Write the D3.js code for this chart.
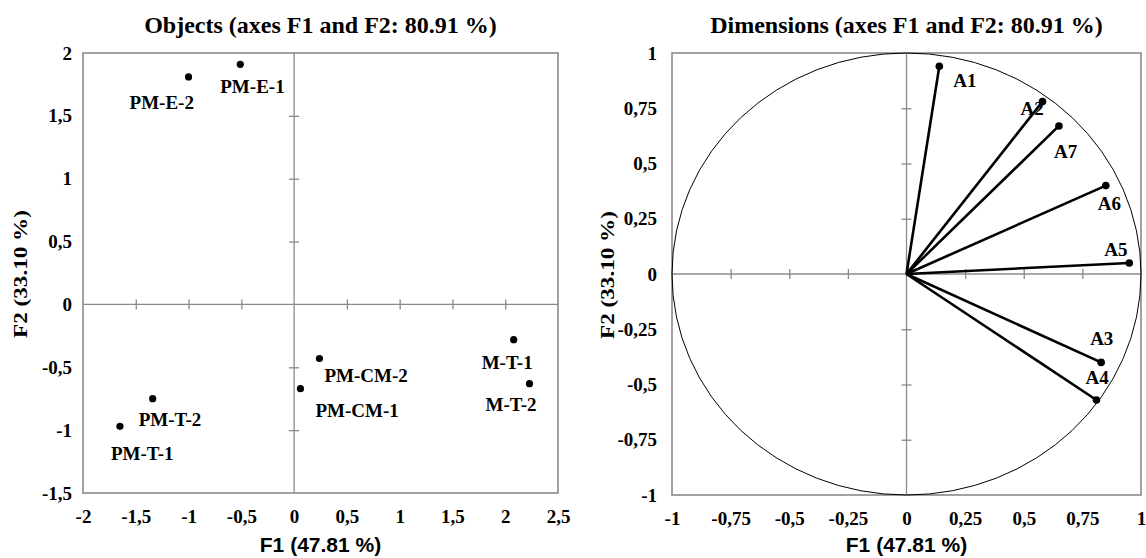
<!DOCTYPE html>
<html>
<head>
<meta charset="utf-8">
<script src="https://cdn.jsdelivr.net/npm/d3@7"></script>
<style>
    body { margin: 0; background: #fff; }
    svg { display: block; }
</style>
</head>
<body>
<svg id="chart" width="1146" height="558"></svg>
<script>
// Objects (observations) on F1 / F2
const objNames = ["PM-E-1", "PM-E-2", "M-T-1", "M-T-2", "PM-CM-2", "PM-CM-1", "PM-T-2", "PM-T-1"];
const objF1 = [-0.51, -1.00, 2.08, 2.23, 0.24, 0.06, -1.34, -1.65];
const objF2 = [1.91, 1.81, -0.28, -0.63, -0.43, -0.67, -0.75, -0.97];

// Dimensions (variables) on the correlation circle
const varNames = ["A1", "A2", "A7", "A6", "A5", "A3", "A4"];
const varF1 = [0.14, 0.58, 0.65, 0.85, 0.95, 0.83, 0.81];
const varF2 = [0.94, 0.78, 0.67, 0.40, 0.05, -0.40, -0.57];

const objXTicks = [-2, -1.5, -1, -0.5, 0, 0.5, 1, 1.5, 2, 2.5];
const objYTicks = [2, 1.5, 1, 0.5, 0, -0.5, -1, -1.5];
const varTicks = [-1, -0.75, -0.5, -0.25, 0, 0.25, 0.5, 0.75, 1];

const titleObj = "Objects (axes F1 and F2: 80.91 %)";
const titleVar = "Dimensions (axes F1 and F2: 80.91 %)";
const xTitle = "F1 (47.81 %)";
const yTitle = "F2 (33.10 %)";

// label placement relative to the point (start x, middle y)
const objLabelPos = {
    "PM-E-1": [-20, 22], "PM-E-2": [-59, 25], "M-T-1": [-32, 23], "M-T-2": [-44, 21],
    "PM-CM-2": [5, 17], "PM-CM-1": [15, 22], "PM-T-2": [-14, 21], "PM-T-1": [-9, 27]
};
const varLabelPos = {
    "A1": [14, 14], "A2": [-22, 7], "A7": [-5, 25], "A6": [-8, 18],
    "A5": [-25, -14], "A3": [-11, -24], "A4": [-11, -23]
};

const serif = "'Liberation Serif', 'Times New Roman', serif";
const sans = "'Liberation Sans', Arial, sans-serif";
const frameColor = "#8a8a8a";
const fmt = d => String(d).replace(".", ",");

const svg = d3.select("#chart");
svg.append("rect").attr("width", 1146).attr("height", 558).attr("fill", "#fff");

function drawPanel(opt) {
    const x = d3.scaleLinear().domain(opt.xDomain).range([opt.left, opt.right]);
    const y = d3.scaleLinear().domain(opt.yDomain).range([opt.bottom, opt.top]);
    const g = svg.append("g");

    // zero axes
    g.append("line")
        .attr("x1", x(0)).attr("x2", x(0))
        .attr("y1", opt.top).attr("y2", opt.bottom)
        .style("stroke", frameColor).style("stroke-width", 1.3);
    g.append("line")
        .attr("x1", opt.left).attr("x2", opt.right)
        .attr("y1", y(0)).attr("y2", y(0))
        .style("stroke", frameColor).style("stroke-width", 1.3);

    // crossing ticks on the zero axes
    const innerX = opt.xTicks.filter(d => d !== 0 && d !== opt.xDomain[0] && d !== opt.xDomain[1]);
    const innerY = opt.yTicks.filter(d => d !== 0 && d !== opt.yDomain[0] && d !== opt.yDomain[1]);
    const cx = g.append("g")
        .attr("transform", `translate(0,${y(0) - 5})`)
        .call(d3.axisBottom(x).tickValues(innerX).tickSize(10).tickFormat(""));
    const cy = g.append("g")
        .attr("transform", `translate(${x(0) + 5},0)`)
        .call(d3.axisLeft(y).tickValues(innerY).tickSize(10).tickFormat(""));
    [cx, cy].forEach(a => {
        a.select(".domain").remove();
        a.selectAll("line").style("stroke", frameColor).style("stroke-width", 1.3);
    });

    // frame
    g.append("rect")
        .attr("x", opt.left).attr("y", opt.top)
        .attr("width", opt.right - opt.left).attr("height", opt.bottom - opt.top)
        .attr("fill", "none")
        .style("stroke", frameColor).style("stroke-width", 1.6);

    // tick labels
    const ax = g.append("g")
        .attr("transform", `translate(0,${opt.bottom})`)
        .call(d3.axisBottom(x).tickValues(opt.xTicks).tickSize(0).tickPadding(17).tickFormat(fmt));
    const ay = g.append("g")
        .attr("transform", `translate(${opt.left},0)`)
        .call(d3.axisLeft(y).tickValues(opt.yTicks).tickSize(0).tickPadding(opt.yPad).tickFormat(fmt));
    [ax, ay].forEach(a => {
        a.select(".domain").remove();
        a.selectAll("text")
            .style("font-family", serif).style("font-weight", "bold")
            .style("font-size", "19px").attr("fill", "#000");
    });

    // titles
    const mid = (opt.left + opt.right) / 2;
    g.append("text")
        .attr("x", mid).attr("y", 33)
        .attr("text-anchor", "middle")
        .style("font-family", serif).style("font-weight", "bold").style("font-size", "24px")
        .text(opt.title);
    g.append("text")
        .attr("x", mid).attr("y", 552)
        .attr("text-anchor", "middle")
        .style("font-family", sans).style("font-weight", "bold").style("font-size", "21px")
        .text(xTitle);
    g.append("text")
        .attr("transform", `translate(${opt.yTitleX},${(opt.top + opt.bottom) / 2 + 1}) rotate(-90)`)
        .attr("text-anchor", "middle")
        .attr("textLength", 128).attr("lengthAdjust", "spacingAndGlyphs")
        .style("font-family", serif).style("font-weight", "bold").style("font-size", "19px")
        .text(yTitle);

    return { g, x, y };
}

// left panel: objects
const p1 = drawPanel({
    left: 83, right: 558, top: 53, bottom: 493,
    xDomain: [-2, 2.5], yDomain: [-1.5, 2],
    xTicks: objXTicks, yTicks: objYTicks, yPad: 11, yTitleX: 27,
    title: titleObj
});

p1.g.selectAll(".obj")
    .data(objNames)
    .enter()
    .append("circle")
    .attr("cx", (d, i) => p1.x(objF1[i]))
    .attr("cy", (d, i) => p1.y(objF2[i]))
    .attr("r", 3.6)
    .attr("fill", "#000");

p1.g.selectAll(".objLabel")
    .data(objNames)
    .enter()
    .append("text")
    .attr("x", (d, i) => p1.x(objF1[i]) + objLabelPos[d][0])
    .attr("y", (d, i) => p1.y(objF2[i]) + objLabelPos[d][1])
    .attr("dy", "0.35em")
    .style("font-family", serif).style("font-weight", "bold").style("font-size", "19px")
    .text(d => d);

// right panel: dimensions
const p2 = drawPanel({
    left: 672, right: 1141, top: 53, bottom: 495,
    xDomain: [-1, 1], yDomain: [-1, 1],
    xTicks: varTicks, yTicks: varTicks, yPad: 15, yTitleX: 614,
    title: titleVar
});

// correlation circle
p2.g.append("ellipse")
    .attr("cx", p2.x(0)).attr("cy", p2.y(0))
    .attr("rx", p2.x(1) - p2.x(0)).attr("ry", p2.y(0) - p2.y(1))
    .attr("fill", "none")
    .style("stroke", "#000").style("stroke-width", 1);

p2.g.selectAll(".vec")
    .data(varNames)
    .enter()
    .append("line")
    .attr("x1", p2.x(0)).attr("y1", p2.y(0))
    .attr("x2", (d, i) => p2.x(varF1[i]))
    .attr("y2", (d, i) => p2.y(varF2[i]))
    .style("stroke", "#000").style("stroke-width", 2.6);

p2.g.selectAll(".vecEnd")
    .data(varNames)
    .enter()
    .append("circle")
    .attr("cx", (d, i) => p2.x(varF1[i]))
    .attr("cy", (d, i) => p2.y(varF2[i]))
    .attr("r", 3.8)
    .attr("fill", "#000");

p2.g.selectAll(".varLabel")
    .data(varNames)
    .enter()
    .append("text")
    .attr("x", (d, i) => p2.x(varF1[i]) + varLabelPos[d][0])
    .attr("y", (d, i) => p2.y(varF2[i]) + varLabelPos[d][1])
    .attr("dy", "0.35em")
    .style("font-family", serif).style("font-weight", "bold").style("font-size", "19px")
    .text(d => d);
</script>
</body>
</html>
